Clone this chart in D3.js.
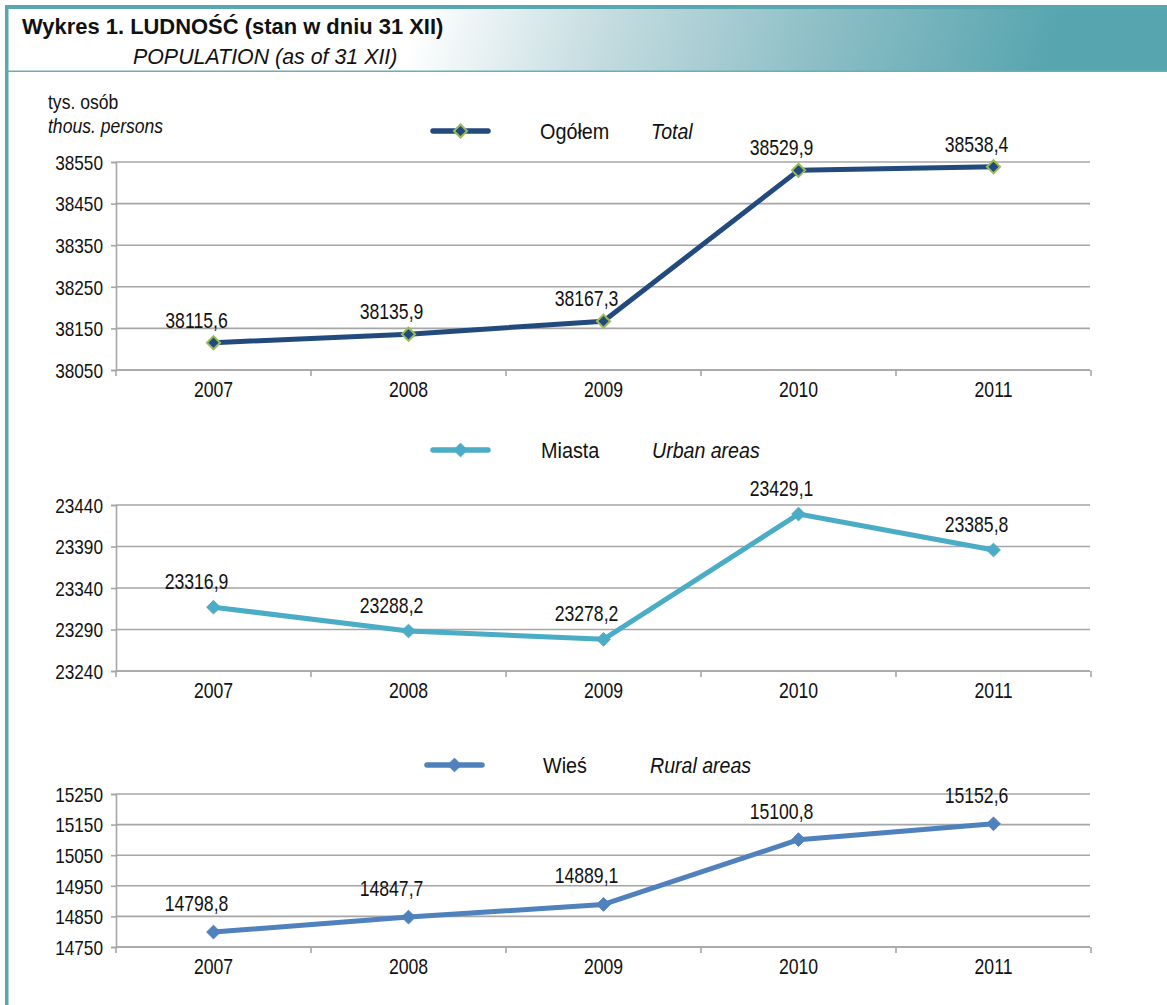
<!DOCTYPE html>
<html><head><meta charset="utf-8">
<script src="https://cdn.jsdelivr.net/npm/d3@7"></script>
<style>
html,body{margin:0;padding:0;background:#fff;}
svg{display:block;}
text{font-family:"Liberation Sans",Arial,sans-serif;fill:#111;}
</style></head>
<body>
<script>
// ---- data ----
const years = ["2007","2008","2009","2010","2011"];
const totalValues = [38115.6, 38135.9, 38167.3, 38529.9, 38538.4];
const urbanValues = [23316.9, 23288.2, 23278.2, 23429.1, 23385.8];
const ruralValues = [14798.8, 14847.7, 14889.1, 15100.8, 15152.6];
const totalTicks = [38050, 38150, 38250, 38350, 38450, 38550];
const urbanTicks = [23240, 23290, 23340, 23390, 23440];
const ruralTicks = [14750, 14850, 14950, 15050, 15150, 15250];
const seriesNamesPL = ["Ogółem", "Miasta", "Wieś"];
const seriesNamesEN = ["Total", "Urban areas", "Rural areas"];
const titlePL = "Wykres 1. LUDNOŚĆ (stan w dniu 31 XII)";
const titleEN = "POPULATION (as of 31 XII)";
const unitPL = "tys. osób";
const unitEN = "thous. persons";

const W = 1167, H = 1005;
const SX = 0.82; // horizontal condensing to imitate a narrow face
const svg = d3.select("body").append("svg").attr("width", W).attr("height", H);

function label(parent, x, y, size, sx, str, opts = {}) {
  const g = parent.append("g").attr("transform", `translate(${x},${y}) scale(${sx},1)`);
  const t = g.append("text").attr("font-size", size).text(str);
  if (opts.italic) t.attr("font-style", "italic");
  if (opts.bold) t.attr("font-weight", "bold");
  if (opts.anchor) t.attr("text-anchor", opts.anchor);
  if (opts.fill) t.attr("fill", opts.fill);
  return t;
}

// header gradient
const defs = svg.append("defs");
const grad = defs.append("linearGradient").attr("id","hdr")
  .attr("gradientUnits","userSpaceOnUse")
  .attr("x1",440).attr("y1",-60).attr("x2",1030).attr("y2",120);
grad.append("stop").attr("offset","0").attr("stop-color","#ffffff");
grad.append("stop").attr("offset","0.3").attr("stop-color","#c4dce0");
grad.append("stop").attr("offset","0.65").attr("stop-color","#8bbdc5");
grad.append("stop").attr("offset","1").attr("stop-color","#57a5af");

svg.append("rect").attr("x",7).attr("y",8).attr("width",W-7).attr("height",63).attr("fill","url(#hdr)");
svg.append("rect").attr("x",5).attr("y",5).attr("width",W-5).attr("height",4).attr("fill","#58a7b1");
svg.append("rect").attr("x",5).attr("y",5).attr("width",3.5).attr("height",H-5).attr("fill","#58a7b1");
svg.append("rect").attr("x",7).attr("y",70.5).attr("width",W-7).attr("height",1.5).attr("fill","#6aaeb7");

label(svg, 22, 34, 22.5, 0.975, titlePL, {bold: true});
label(svg, 133, 64, 22.5, 0.95, titleEN, {italic: true, fill: "#222"});
label(svg, 48, 109, 19.5, 0.9, unitPL);
label(svg, 48, 133, 19.5, 0.9, unitEN, {italic: true});

const x0 = 116, x1 = 1091;
const x = d3.scaleBand().domain(years).range([x0, x1]);

function drawChart(cfg){
  const g = svg.append("g");
  const y = d3.scaleLinear().domain([cfg.ticks[0], cfg.ticks[cfg.ticks.length-1]]).range([cfg.bottom, cfg.top]);
  // gridlines
  g.append("g").selectAll("line").data(cfg.ticks).join("line")
    .attr("x1",x0).attr("x2",x1-1).attr("y1",d=>y(d)).attr("y2",d=>y(d))
    .attr("stroke","#a6a6a6").attr("stroke-width",1.6);
  // y axis
  const ya = g.append("g").attr("transform",`translate(${x0},0)`)
    .call(d3.axisLeft(y).tickValues(cfg.ticks).tickFormat(d3.format("d")).tickSize(5).tickPadding(8));
  ya.select(".domain").attr("stroke","#a6a6a6").attr("stroke-width",1.6);
  ya.selectAll(".tick line").attr("stroke","#a6a6a6").attr("stroke-width",1.6);
  ya.selectAll(".tick text").attr("font-size",21).attr("fill","#111").attr("font-family",null)
    .attr("dy","0.35em").attr("x", -13 / SX).attr("transform", `scale(${SX},1)`);
  // x axis
  const xa = g.append("g").attr("transform",`translate(0,${cfg.bottom})`)
    .call(d3.axisBottom(x).tickSize(0).tickPadding(12));
  xa.select(".domain").remove();
  xa.selectAll(".tick text").attr("font-size",21.5).attr("fill","#111").attr("font-family",null)
    .attr("transform", `scale(${SX},1)`);
  g.append("g").selectAll("line").data(years.concat(["end"])).join("line")
    .attr("x1",(d,i)=>x0+i*x.bandwidth()).attr("x2",(d,i)=>x0+i*x.bandwidth())
    .attr("y1",cfg.bottom).attr("y2",cfg.bottom+6)
    .attr("stroke","#a6a6a6").attr("stroke-width",1.6);
  g.append("line").attr("x1",x0).attr("x2",x1-1).attr("y1",cfg.bottom).attr("y2",cfg.bottom)
    .attr("stroke","#a6a6a6").attr("stroke-width",1.6);

  const cx = d => x(d) + x.bandwidth()/2;
  const pts = years.map((yr,i)=>({yr, v: cfg.values[i]}));
  g.append("path").datum(pts)
    .attr("d", d3.line().x(d=>cx(d.yr)).y(d=>y(d.v)))
    .attr("fill","none").attr("stroke",cfg.color).attr("stroke-width",5).attr("stroke-linejoin","round");
  const sym = d3.symbol().type(d3.symbolDiamond2).size(cfg.msize);
  g.append("g").selectAll("path").data(pts).join("path")
    .attr("transform",d=>`translate(${cx(d.yr)},${y(d.v)})`)
    .attr("d",sym).attr("fill",cfg.mfill).attr("stroke",cfg.mstroke).attr("stroke-width",cfg.mstrokeW);
  pts.forEach(d => {
    label(g, cx(d.yr)-17, y(d.v)-cfg.labelOff, 21.5, SX,
      d3.format(".1f")(d.v).replace(".",","), {anchor: "middle"});
  });

  // legend
  const lg = g.append("g");
  lg.append("line").attr("x1",cfg.legX).attr("x2",cfg.legX+55).attr("y1",cfg.legY).attr("y2",cfg.legY)
    .attr("stroke",cfg.color).attr("stroke-width",5.5).attr("stroke-linecap","round");
  lg.append("path").attr("transform",`translate(${cfg.legX+27.5},${cfg.legY})`)
    .attr("d",sym).attr("fill",cfg.mfill).attr("stroke",cfg.mstroke).attr("stroke-width",cfg.mstrokeW);
  label(lg, cfg.legT1, cfg.legY+8, 22.5, 0.88, cfg.namePL);
  label(lg, cfg.legT2, cfg.legY+8, 22.5, 0.87, cfg.nameEN, {italic: true});
}

drawChart({values: totalValues, ticks: totalTicks, top: 162, bottom: 370,
  color: "#234a7c", mfill: "#234a7c", mstroke: "#9bbb59", mstrokeW: 2, msize: 110, labelOff: 15,
  legX: 433, legY: 131, legT1: 540, legT2: 651, namePL: seriesNamesPL[0], nameEN: seriesNamesEN[0]});
drawChart({values: urbanValues, ticks: urbanTicks, top: 505, bottom: 671,
  color: "#4bacc6", mfill: "#4bacc6", mstroke: "#4bacc6", mstrokeW: 1, msize: 120, labelOff: 18,
  legX: 433, legY: 450, legT1: 541, legT2: 652, namePL: seriesNamesPL[1], nameEN: seriesNamesEN[1]});
drawChart({values: ruralValues, ticks: ruralTicks, top: 794, bottom: 947,
  color: "#4f81bd", mfill: "#4f81bd", mstroke: "#4f81bd", mstrokeW: 1, msize: 120, labelOff: 21,
  legX: 427, legY: 765, legT1: 543, legT2: 650, namePL: seriesNamesPL[2], nameEN: seriesNamesEN[2]});
</script>
</body></html>
